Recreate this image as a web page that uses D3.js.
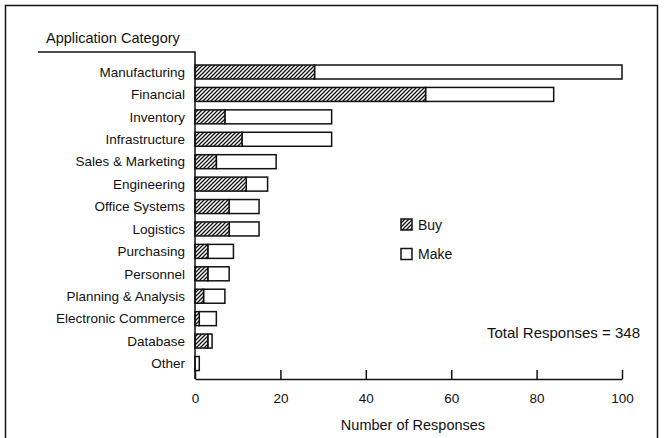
<!DOCTYPE html>
<html>
<head>
<meta charset="utf-8">
<script src="https://cdn.jsdelivr.net/npm/d3@7"></script>
<style>
  html, body { margin: 0; padding: 0; background: #fff; }
  svg { display: block; font-family: "Liberation Sans", Arial, Helvetica, sans-serif; }
</style>
</head>
<body>
<svg id="chart" width="664" height="438"></svg>
<script>
const categories = ["Manufacturing", "Financial", "Inventory", "Infrastructure", "Sales & Marketing",
  "Engineering", "Office Systems", "Logistics", "Purchasing", "Personnel",
  "Planning & Analysis", "Electronic Commerce", "Database", "Other"];
const buyValues  = [28, 54, 7, 11, 5, 12, 8, 8, 3, 3, 2, 1, 3, 0];
const makeValues = [72, 30, 25, 21, 14, 5, 7, 7, 6, 5, 5, 4, 1, 1];
const xTicks = [0, 20, 40, 60, 80, 100];
const seriesNames = ["Buy", "Make"];
const totalLabel = "Total Responses = 348";

const svg = d3.select("#chart");

const defs = svg.append("defs");
const pat = defs.append("pattern")
  .attr("id", "hatch").attr("patternUnits", "userSpaceOnUse")
  .attr("width", 4).attr("height", 4);
pat.append("rect").attr("width", 4).attr("height", 4).attr("fill", "#fff");
pat.append("path").attr("d", "M-1,1 L1,-1 M0,4 L4,0 M3,5 L5,3")
  .attr("stroke", "#111").attr("stroke-width", 1.3);

// frame
svg.append("rect").attr("x", 5.5).attr("y", 5.5).attr("width", 652).attr("height", 445)
  .attr("fill", "none").attr("stroke", "#111").attr("stroke-width", 1.5);

const x = d3.scaleLinear().domain([0, 100]).range([195, 622]);
const y = d3.scalePoint().domain(categories).range([72, 363.5]);
const barH = 14;

const rows = categories.map((c, i) => ({ cat: c, buy: buyValues[i], make: makeValues[i] }));

const g = svg.append("g");
g.selectAll("rect.make").data(rows).join("rect").attr("class", "make")
  .attr("x", d => x(d.buy)).attr("y", d => y(d.cat) - barH / 2)
  .attr("width", d => x(d.buy + d.make) - x(d.buy)).attr("height", barH)
  .attr("fill", "#fff").attr("stroke", "#111").attr("stroke-width", 1.5);
g.selectAll("rect.buy").data(rows.filter(d => d.buy > 0)).join("rect").attr("class", "buy")
  .attr("x", x(0)).attr("y", d => y(d.cat) - barH / 2)
  .attr("width", d => x(d.buy) - x(0)).attr("height", barH)
  .attr("fill", "url(#hatch)").attr("stroke", "#111").attr("stroke-width", 1.5);

g.selectAll("text.cat").data(categories).join("text").attr("class", "cat")
  .attr("x", 185).attr("y", d => y(d)).attr("dy", "0.35em")
  .attr("text-anchor", "end").attr("font-size", 13.5).attr("fill", "#111")
  .text(d => d);

svg.append("text").attr("x", 46).attr("y", 43).attr("font-size", 14.5).attr("fill", "#111")
  .text("Application Category");
svg.append("path").attr("d", `M38,52 H${x(0)} V${379}`)
  .attr("fill", "none").attr("stroke", "#111").attr("stroke-width", 1.5);

const xAxis = d3.axisBottom(x).tickValues(xTicks).tickSizeInner(-9).tickSizeOuter(0).tickPadding(15);
const ax = svg.append("g").attr("transform", "translate(0,379)").call(xAxis);
ax.select(".domain").attr("stroke", "#111").attr("stroke-width", 1.5);
ax.selectAll(".tick line").attr("stroke", "#111").attr("stroke-width", 1.5);
ax.selectAll(".tick text").attr("font-size", 13.5).attr("fill", "#111")
  .attr("font-family", "Liberation Sans, Arial, sans-serif").attr("dy", "0").attr("y", 24);

svg.append("text").attr("x", 413).attr("y", 430).attr("text-anchor", "middle")
  .attr("font-size", 14.5).attr("fill", "#111").text("Number of Responses");

const leg = svg.append("g");
seriesNames.forEach((s, i) => {
  const ly = 219 + i * 29.5;
  leg.append("rect").attr("x", 401).attr("y", ly).attr("width", 11).attr("height", 11)
    .attr("fill", i === 0 ? "url(#hatch)" : "#fff").attr("stroke", "#111").attr("stroke-width", 1.5);
  leg.append("text").attr("x", 418).attr("y", ly + 10.5).attr("font-size", 14).attr("fill", "#111").text(s);
});

svg.append("text").attr("x", 640).attr("y", 338).attr("text-anchor", "end")
  .attr("font-size", 15).attr("fill", "#111").text(totalLabel);
</script>
</body>
</html>
